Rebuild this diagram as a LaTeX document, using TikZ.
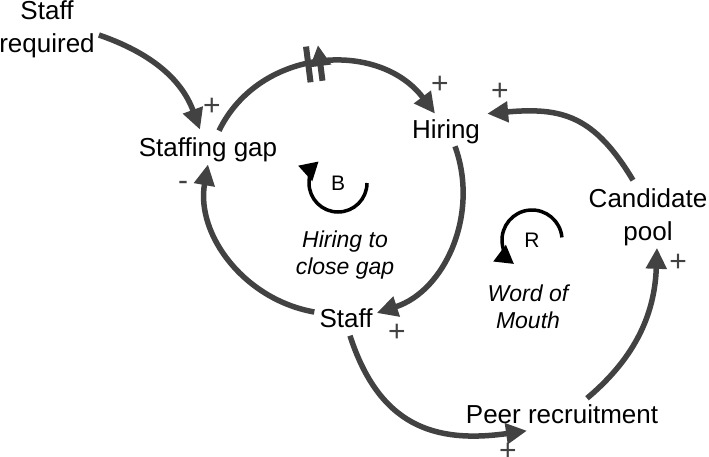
\documentclass[tikz,border=0pt]{standalone}
\usepackage{fontspec}
\setmainfont{Liberation Sans}
\usetikzlibrary{arrows.meta,decorations.markings,calc}
\definecolor{ink}{HTML}{000000}
\definecolor{wire}{HTML}{424242}

\begin{document}
\begin{tikzpicture}[
  x=1pt, y=1pt,
  font=\fontsize{26}{33}\selectfont, color=ink,
  var/.style={align=center, inner sep=2pt},
  loopname/.style={font=\fontsize{23}{27}\selectfont\itshape, align=center, inner sep=2pt},
  letter/.style={font=\fontsize{21}{25}\selectfont, inner sep=2pt},
  link/.style={-{Triangle[length=21pt,width=20pt]}, line width=5.5pt, color=wire},
  sign/.style={font=\fontsize{30}{30}\selectfont, text=wire, inner sep=0pt},
  loopsym/.style={-{Triangle[length=18pt,width=20pt]}, line width=3.5pt, color=black},
  delay/.style={postaction=decorate, decoration={markings, mark=at position 0.47 with
    {\draw[line width=6pt, color=wire] (-6pt,-18pt) -- (-6pt,18pt) (6pt,-18pt) -- (6pt,18pt);}}},
]
\useasboundingbox (0,0) rectangle (709,456);

% ---- variables ----
\node[var] (req)   at (47,427)  {Staff\\required};
\node[var] (gap)   at (208,306) {Staffing gap};
\node[var] (hire)  at (446,324) {Hiring};
\node[var] (pool)  at (648,239) {Candidate\\pool};
\node[var] (staff) at (346,138) {Staff};
\node[var] (peer)  at (562,42)  {Peer recruitment};

% ---- loop names ----
\node[letter] (B) at (338,273) {B};
\node[letter] (R) at (532,216) {R};
\node[loopname] (Bname) at (345,201) {Hiring to\\close gap};
\node[loopname] (Rname) at (528,149) {Word of\\Mouth};
\draw[loopsym] ($(B.center)+(0:29pt)$) arc[start angle=0, end angle=-228, radius=29pt];
\draw[loopsym] ($(R.center)+(5:30pt)$) arc[start angle=5, end angle=233, radius=30pt];

% ---- balancing loop ----
\draw[link] ([shift={(2pt,-6pt)}]req.east) to[out=-19, in=110] ([shift={(-8pt,6pt)}]gap.north);
\draw[link, delay] ([shift={(11pt,5pt)}]gap.north) to[out=64, in=127, looseness=1.1] ([shift={(-11pt,4pt)}]hire.north);
\draw[link] ([xshift=9pt]hire.south) to[out=-70, in=18] ([shift={(2pt,5pt)}]staff.east);
\draw[link] ([shift={(-3pt,6pt)}]staff.west) to[out=170, in=-100] (gap.south);

% ---- reinforcing loop ----
\draw[link] ([shift={(4pt,-6pt)}]staff.south) to[out=-72, in=188, looseness=1.2] ([shift={(-35pt,-5pt)}]peer.south);
\draw[link] ([shift={(25pt,4pt)}]peer.north) to[out=40, in=-92] ([xshift=9pt]pool.south);
\draw[link] ([shift={(-15pt,6pt)}]pool.north) to[out=121, in=5, looseness=1.2] ([shift={(5pt,4pt)}]hire.north east);

% ---- polarities ----
\node[sign] (p1) at (212,349) {+};
\node[sign] (p2) at (440,371) {+};
\node[sign] (p3) at (500,364) {+};
\node[sign] (p4) at (397,123) {+};
\node[sign] (p5) at (183,270) {-};
\node[sign] (p6) at (508,4)   {+};
\node[sign] (p7) at (678,193) {+};
\end{tikzpicture}
\end{document}
